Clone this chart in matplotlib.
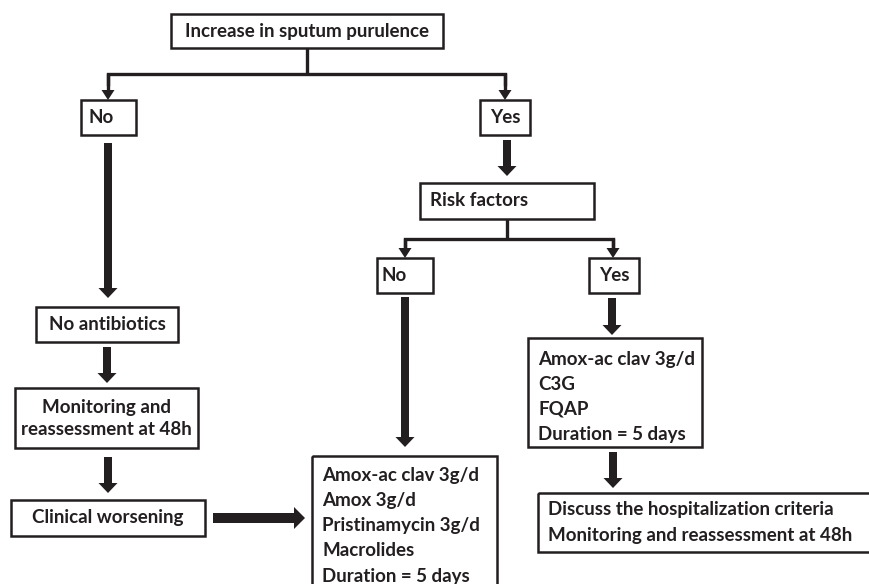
import matplotlib.pyplot as plt
from matplotlib.patches import Rectangle, Polygon

# box labels
top_label = "Increase in sputum purulence"
no_label = "No"
yes_label = "Yes"
risk_label = "Risk factors"
no_abx_label = "No antibiotics"
monitor_label = "Monitoring and\nreassessment at 48h"
worsening_label = "Clinical worsening"
low_risk_lines = ["Amox-ac clav 3g/d", "Amox 3g/d", "Pristinamycin 3g/d",
                  "Macrolides", "Duration = 5 days"]
high_risk_lines = ["Amox-ac clav 3g/d", "C3G", "FQAP", "Duration = 5 days"]
hosp_lines = ["Discuss the hospitalization criteria",
              "Monitoring and reassessment at 48h"]

W, H = 869, 584
ink = "#231f20"
font = "Lato"
fs = 13.5

fig = plt.figure(figsize=(W / 100, H / 100), dpi=100)
ax = fig.add_axes([0, 0, 1, 1])
ax.set_xlim(0, W)
ax.set_ylim(H, 0)
ax.axis("off")


def box(x0, y0, x1, y1):
    ax.add_patch(Rectangle((x0, y0), x1 - x0, y1 - y0, fill=False,
                           edgecolor=ink, lw=1.8, zorder=3))


def label(x, y, s, ha="center", **kw):
    ax.text(x, y, s, ha=ha, va="center", fontsize=fs, fontweight="bold",
            family=font, color=ink, **kw)


def thick_down(x, y0, y1, shaft=8, head=19, hl=10):
    pts = [(x - shaft / 2, y0), (x + shaft / 2, y0), (x + shaft / 2, y1 - hl),
           (x + head / 2, y1 - hl), (x, y1), (x - head / 2, y1 - hl),
           (x - shaft / 2, y1 - hl)]
    ax.add_patch(Polygon(pts, closed=True, color=ink, lw=0, zorder=2))


def thick_right(x0, x1, y, shaft=10, head=22, hl=11):
    pts = [(x0, y - shaft / 2), (x1 - hl, y - shaft / 2), (x1 - hl, y - head / 2),
           (x1, y), (x1 - hl, y + head / 2), (x1 - hl, y + shaft / 2),
           (x0, y + shaft / 2)]
    ax.add_patch(Polygon(pts, closed=True, color=ink, lw=0, zorder=2))


def split(xc, y0, ybar, xl, xr, ytip, hw=13, hl=10):
    ax.plot([xc, xc], [y0, ybar], color=ink, lw=2.4, solid_capstyle="butt")
    ax.plot([xl, xl, xr, xr], [ybar + hl, ybar, ybar, ybar + hl], color=ink,
            lw=2.4, solid_joinstyle="miter")
    for x in (xl, xr):
        ax.plot([x, x], [ybar + 1, ytip - hl], color=ink, lw=2.4)
        ax.add_patch(Polygon([(x - hw / 2, ytip - hl), (x + hw / 2, ytip - hl),
                              (x, ytip)], closed=True, color=ink, lw=0))


# top level
box(171, 14, 443, 48)
label(307, 31, top_label)
split(307, 48, 74, 108, 505, 100)
box(81, 100, 136, 135)
label(101, 117.5, no_label)
box(480, 100, 530, 135)
label(505, 117.5, yes_label)

# yes branch
thick_down(507, 140, 176)
box(420, 183, 594, 219)
label(430, 201, risk_label, ha="left")
split(507, 219, 239, 405, 613, 258)
box(377, 258, 433, 293)
label(394, 275.5, no_label)
box(589, 258, 639, 293)
label(614, 275.5, yes_label)

# no branch (left column)
thick_down(108, 143, 298)
box(36, 307, 178, 342)
label(107, 324.5, no_abx_label)
thick_down(107, 347, 383)
box(15, 388, 198, 448)
label(106.5, 418.5, monitor_label, linespacing=1.32)
thick_down(108, 457, 493)
box(11, 500, 205, 536)
label(108, 518, worsening_label)
thick_right(213, 305, 518)

# low risk treatment
thick_down(405, 297, 447)
box(312, 456, 497, 600)
for i, s in enumerate(low_risk_lines):
    label(322, 475 + i * 25.3, s, ha="left")

# high risk treatment
thick_down(612, 298, 335)
box(528, 338, 702, 447)
for i, s in enumerate(high_risk_lines):
    label(538, 360 + i * 24.7, s, ha="left")
thick_down(613, 452, 488)
box(538, 493, 900, 552)
for i, s in enumerate(hosp_lines):
    label(548, 509 + i * 26, s, ha="left")

fig.savefig("out.png", dpi=100)
